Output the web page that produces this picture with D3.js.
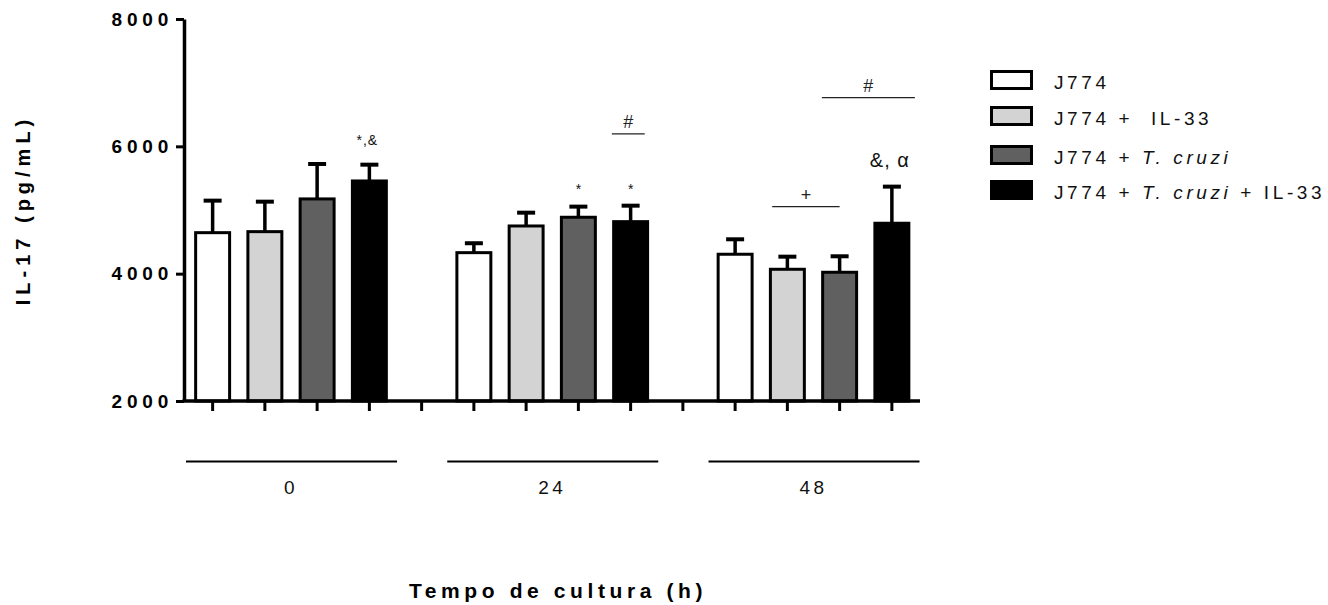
<!DOCTYPE html>
<html>
<head>
<meta charset="utf-8">
<script src="https://cdn.jsdelivr.net/npm/d3@7"></script>
<style>
  body { margin: 0; background: #fff; }
  svg { display: block; font-family: "Liberation Sans", Arial, sans-serif; }
</style>
</head>
<body>
<svg id="chart" width="1328" height="605"></svg>
<script>
// Chart data.
const groups = ["0", "24", "48"];
const seriesNames = ["J774", "J774 +  IL-33", "J774 + T. cruzi", "J774 + T. cruzi + IL-33"];
const seriesColors = ["#ffffff", "#d3d3d3", "#606060", "#000000"];
const meanJ774 = [4644, 4330, 4305];
const meanIL33 = [4660, 4749, 4069];
const meanTcruzi = [5174, 4886, 4022];
const meanTcruziIL33 = [5456, 4817, 4792];
const semJ774 = [503, 148, 235];
const semIL33 = [471, 209, 198];
const semTcruzi = [549, 167, 251];
const semTcruziIL33 = [256, 251, 575];
const yTicks = [2000, 4000, 6000, 8000];
// Significance marks: text above a bar (group, series, value) and bracket marks
// spanning bar slots (start/end in slot units within the group).
const starMarks = [
    { text: "*,&", group: 0, series: 3, value: 6100, size: 14 },
    { text: "*", group: 1, series: 2, value: 5330, size: 14 },
    { text: "*", group: 1, series: 3, value: 5330, size: 14 },
    { text: "&, α", group: 2, series: 3, value: 5790, size: 20 }
];
const bracketMarks = [
    { text: "#", group: 1, start: 2.64, end: 3.27, value: 6195 },
    { text: "+", group: 2, start: 0.71, end: 2.0, value: 5053 },
    { text: "#", group: 2, start: 1.66, end: 3.44, value: 6765 }
];

const means = [meanJ774, meanIL33, meanTcruzi, meanTcruziIL33];
const sems = [semJ774, semIL33, semTcruzi, semTcruziIL33];

const svg = d3.select("#chart");
const slotsPerGroup = seriesNames.length + 1;
const slots = d3.range(groups.length * slotsPerGroup - 1);

// Scales.
const x = d3.scaleBand().domain(slots).range([186.5, 918]).paddingInner(0.35).paddingOuter(0.175);
const y = d3.scaleLinear().domain([2000, 8000]).range([401, 19]);
const slotCenter = (g, s) => x(g * slotsPerGroup + s) + x.bandwidth() / 2;
const slotPos = (g, s) => slotCenter(g, 0) + s * x.step();
const axisX = 184;

// Flatten the bars.
let bars = [];
groups.forEach((g, gi) => {
    seriesNames.forEach((name, si) => {
        bars.push({ group: gi, series: si, mean: means[si][gi], sem: sems[si][gi] });
    });
});

// Error bars (upper only).
const err = svg.append("g").attr("stroke", "#000").attr("stroke-width", 3.5);
err.selectAll(".errLine").data(bars).join("line")
    .attr("x1", d => slotCenter(d.group, d.series)).attr("x2", d => slotCenter(d.group, d.series))
    .attr("y1", d => y(d.mean)).attr("y2", d => y(d.mean + d.sem));
err.selectAll(".errCap").data(bars).join("line")
    .attr("x1", d => slotCenter(d.group, d.series) - 9).attr("x2", d => slotCenter(d.group, d.series) + 9)
    .attr("y1", d => y(d.mean + d.sem)).attr("y2", d => y(d.mean + d.sem))
    .attr("stroke-width", 4);

// Bars.
svg.append("g").selectAll("rect").data(bars).join("rect")
    .attr("x", d => x(d.group * slotsPerGroup + d.series))
    .attr("y", d => y(d.mean))
    .attr("width", x.bandwidth())
    .attr("height", d => y(2000) - y(d.mean))
    .attr("fill", d => seriesColors[d.series])
    .attr("stroke", "#000").attr("stroke-width", 3);

// Y axis.
const yAxis = svg.append("g").attr("transform", `translate(${axisX},0)`)
    .call(d3.axisLeft(y).tickValues(yTicks).tickSize(8).tickSizeOuter(0).tickPadding(3).tickFormat(d3.format("d")));
yAxis.select(".domain").attr("stroke-width", 3.5);
yAxis.selectAll(".tick line").attr("stroke-width", 3);
yAxis.selectAll(".tick text")
    .attr("font-size", 19).attr("font-weight", "bold").attr("letter-spacing", 4.8)
    .attr("font-family", "Liberation Sans, Arial, sans-serif").attr("fill", "#000");

// X axis: ticks under every slot.
const xAxis = svg.append("g").attr("transform", `translate(0,${y(2000)})`)
    .call(d3.axisBottom(x).tickSize(10).tickFormat(""));
xAxis.select(".domain").remove();
xAxis.selectAll(".tick line").attr("stroke-width", 3);
svg.append("line")
    .attr("x1", axisX - 1.5).attr("x2", 920)
    .attr("y1", y(2000)).attr("y2", y(2000))
    .attr("stroke", "#000").attr("stroke-width", 3.5);

// Group lines and labels.
const groupCenter = gi => (slotCenter(gi, 0) + slotCenter(gi, seriesNames.length - 1)) / 2;
const groupG = svg.append("g");
groupG.selectAll("line").data(groups).join("line")
    .attr("x1", (d, i) => groupCenter(i) - 105).attr("x2", (d, i) => groupCenter(i) + 106)
    .attr("y1", 461.5).attr("y2", 461.5)
    .attr("stroke", "#000").attr("stroke-width", 2);
groupG.selectAll("text").data(groups).join("text")
    .text(d => d)
    .attr("x", (d, i) => groupCenter(i)).attr("y", 494)
    .attr("text-anchor", "middle")
    .attr("font-size", 19).attr("letter-spacing", 3.5).attr("fill", "#111");

// Axis titles.
svg.append("text")
    .text("IL-17 (pg/mL)")
    .attr("transform", "translate(30,210) rotate(-90)")
    .attr("text-anchor", "middle")
    .attr("font-size", 20).attr("font-weight", "bold").attr("letter-spacing", 5);
svg.append("text")
    .text("Tempo de cultura (h)")
    .attr("x", 558).attr("y", 598)
    .attr("text-anchor", "middle")
    .attr("font-size", 21).attr("font-weight", "bold").attr("letter-spacing", 4.6);

// Significance marks.
svg.append("g").selectAll("text").data(starMarks).join("text")
    .text(d => d.text)
    .attr("x", d => slotCenter(d.group, d.series) + (d.text.length > 1 ? -2 : 0))
    .attr("y", d => y(d.value))
    .attr("dy", "0.35em")
    .attr("text-anchor", "middle")
    .attr("font-size", d => d.size).attr("letter-spacing", d => d.text.length > 1 ? 1 : 0)
    .attr("fill", "#111");
const br = svg.append("g").selectAll("g").data(bracketMarks).join("g");
br.append("line")
    .attr("x1", d => slotPos(d.group, d.start))
    .attr("x2", d => slotPos(d.group, d.end))
    .attr("y1", d => y(d.value)).attr("y2", d => y(d.value))
    .attr("stroke", "#222").attr("stroke-width", 1.3);
br.append("text")
    .text(d => d.text)
    .attr("x", d => (slotPos(d.group, d.start) + slotPos(d.group, d.end)) / 2)
    .attr("y", d => y(d.value) - 6)
    .attr("text-anchor", "middle")
    .attr("font-size", 18).attr("fill", "#222");

// Legend.
const legend = svg.append("g").attr("transform", "translate(990,0)");
const legendRows = [80, 116, 155, 190];
const rows = legend.selectAll("g").data(seriesNames).join("g")
    .attr("transform", (d, i) => `translate(0,${legendRows[i]})`);
rows.append("rect")
    .attr("x", 1.5).attr("y", -8.5)
    .attr("width", 40).attr("height", 17)
    .attr("fill", (d, i) => seriesColors[i])
    .attr("stroke", "#000").attr("stroke-width", 3);
const lt = rows.append("text")
    .attr("x", 64).attr("y", 3)
    .attr("dy", "0.32em")
    .attr("font-size", 19).attr("letter-spacing", 3.6).attr("fill", "#111")
    .style("white-space", "pre");
lt.each(function (d) {
    let parts = d.split("T. cruzi");
    let t = d3.select(this);
    parts.forEach((p, i) => {
        if (i > 0) t.append("tspan").attr("font-style", "italic").text("T. cruzi");
        if (p.length) t.append("tspan").text(p);
    });
});
</script>
</body>
</html>
